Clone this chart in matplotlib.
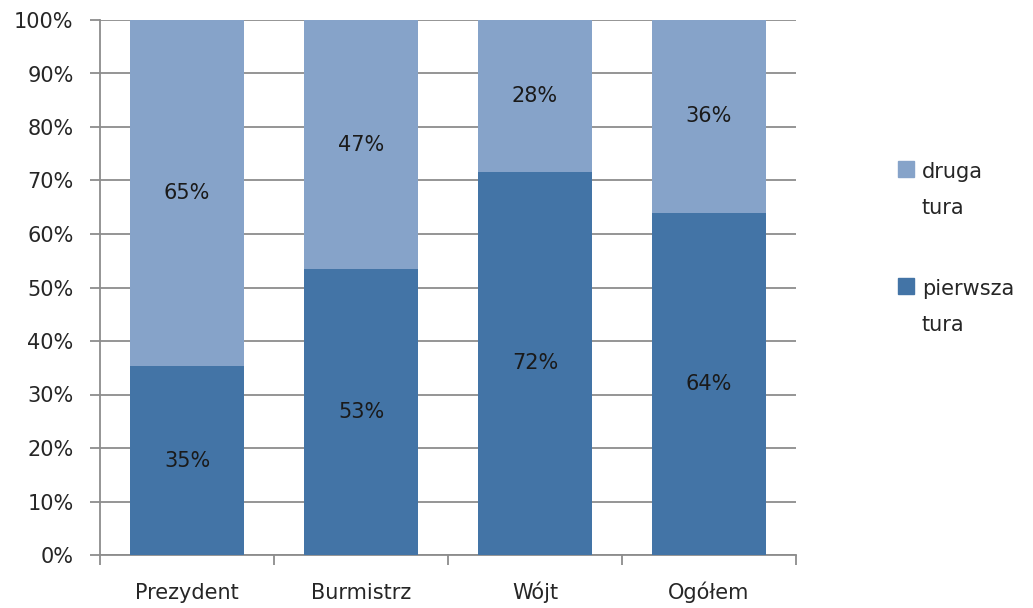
import matplotlib.pyplot as plt
from matplotlib.patches import Rectangle
import numpy as np

categories = ["Prezydent", "Burmistrz", "Wójt", "Ogółem"]
pierwsza = np.array([35.3, 53.4, 71.6, 64.0])
druga = 100 - pierwsza
legend_labels = ["druga\ntura", "pierwsza\ntura"]

dark = "#4374A6"
light = "#86A3C9"
grid_c = "#8c8c8c"

plt.rcParams['font.family'] = ['DejaVu Sans']
plt.rcParams['font.size'] = 15

W, H = 1033, 608
fig = plt.figure(figsize=(W / 100, H / 100), dpi=100)
ax = fig.add_axes([100 / W, 53 / H, 696 / W, 535 / H])

x = np.arange(len(categories))
w = 0.66
b1 = ax.bar(x, pierwsza, w, color=dark, zorder=3)
b2 = ax.bar(x, druga, w, bottom=pierwsza, color=light, zorder=3)

# labels in the middle of each segment
for i in range(len(categories)):
    ax.text(x[i], pierwsza[i] / 2, f"{round(pierwsza[i]):.0f}%", ha="center", va="center",
            color="#1a1a1a", zorder=4)
    ax.text(x[i], pierwsza[i] + druga[i] / 2, f"{round(druga[i]):.0f}%", ha="center", va="center",
            color="#1a1a1a", zorder=4)

ax.set_xlim(-0.5, len(categories) - 0.5)
ax.set_ylim(0, 100)
ax.set_yticks(np.arange(0, 101, 10))
ax.set_yticklabels([f"{v}%" for v in range(0, 101, 10)])
ax.set_xticks(x)
ax.set_xticklabels(categories)
ax.set_xticks(np.arange(-0.5, len(categories)), minor=True)
ax.tick_params(axis="x", which="major", length=0, pad=32)
ax.tick_params(axis="x", which="minor", length=7, width=1.3, direction="out")
ax.tick_params(axis="y", length=7, width=1.3, direction="out", pad=12)
ax.tick_params(axis="both", which="both", color=grid_c, labelcolor="#262626")
# same baseline for all category names (accents would push some down)
for lbl in ax.get_xticklabels():
    lbl.set_verticalalignment("baseline")

ax.grid(axis="y", color=grid_c, linewidth=1.3, zorder=0)
ax.set_axisbelow(True)
for s in ["top", "right"]:
    ax.spines[s].set_visible(False)
for s in ["left", "bottom"]:
    ax.spines[s].set_color(grid_c)
    ax.spines[s].set_linewidth(1.3)

# legend drawn by hand: square next to the first line of each label
for col, lab, ytop in [(light, legend_labels[0], 161), (dark, legend_labels[1], 278)]:
    fig.add_artist(Rectangle((898 / W, 1 - (ytop + 16) / H), 16 / W, 16 / H,
                             transform=fig.transFigure, color=col))
    fig.text(922 / W, 1 - (ytop + 1) / H, lab, ha="left", va="top",
             linespacing=2.0, color="#262626")

fig.savefig("out.png", dpi=100)
